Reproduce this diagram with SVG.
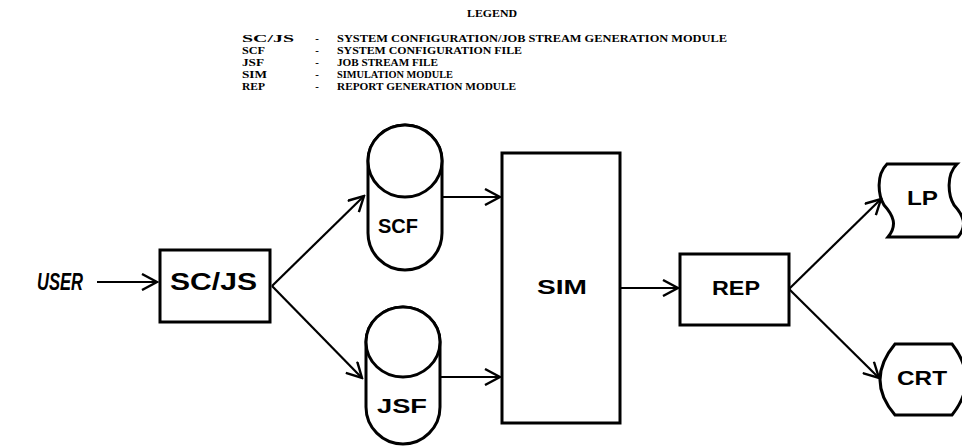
<svg xmlns="http://www.w3.org/2000/svg" width="962" height="447" viewBox="0 0 962 447">
<style>
.lg{font-family:"Liberation Serif","Times New Roman",serif;font-weight:bold;font-size:10.8px;fill:#000}
.lb{font-family:"Liberation Sans",Arial,sans-serif;font-weight:bold;font-size:21px;fill:#000}
.big{font-size:23px}
.sh{fill:#fff;stroke:#000;stroke-width:3}
.cn line{stroke:#000;stroke-width:2.2;fill:none}
</style>
<defs>
<marker id="arr" viewBox="0 0 18 18" refX="16" refY="9" markerWidth="18" markerHeight="18" markerUnits="userSpaceOnUse" orient="auto">
<path d="M1,1 L16,9 L1,17" fill="none" stroke="#000" stroke-width="2.4"/>
</marker>
</defs>
<rect width="962" height="447" fill="#fff"/>
<g id="legend">
<text class="lg" x="467" y="17" textLength="50" lengthAdjust="spacingAndGlyphs">LEGEND</text>
<text class="lg" x="242" y="41.5" textLength="52" lengthAdjust="spacingAndGlyphs">SC/JS</text>
<text class="lg" x="317" y="41.5" text-anchor="middle">-</text>
<text class="lg" x="337" y="41.5" textLength="390" lengthAdjust="spacingAndGlyphs">SYSTEM CONFIGURATION/JOB STREAM GENERATION MODULE</text>
<text class="lg" x="242" y="53.5" textLength="23" lengthAdjust="spacingAndGlyphs">SCF</text>
<text class="lg" x="317" y="53.5" text-anchor="middle">-</text>
<text class="lg" x="337" y="53.5" textLength="185" lengthAdjust="spacingAndGlyphs">SYSTEM CONFIGURATION FILE</text>
<text class="lg" x="242" y="65.5" textLength="22" lengthAdjust="spacingAndGlyphs">JSF</text>
<text class="lg" x="317" y="65.5" text-anchor="middle">-</text>
<text class="lg" x="337" y="65.5" textLength="101" lengthAdjust="spacingAndGlyphs">JOB STREAM FILE</text>
<text class="lg" x="242" y="77.5" textLength="25" lengthAdjust="spacingAndGlyphs">SIM</text>
<text class="lg" x="317" y="77.5" text-anchor="middle">-</text>
<text class="lg" x="337" y="77.5" textLength="116" lengthAdjust="spacingAndGlyphs">SIMULATION MODULE</text>
<text class="lg" x="242" y="89.5" textLength="23" lengthAdjust="spacingAndGlyphs">REP</text>
<text class="lg" x="317" y="89.5" text-anchor="middle">-</text>
<text class="lg" x="337" y="89.5" textLength="179" lengthAdjust="spacingAndGlyphs">REPORT GENERATION MODULE</text>
</g>
<g id="user">
<text class="lb big" x="37" y="290" font-style="italic" textLength="46" lengthAdjust="spacingAndGlyphs">USER</text>
</g>
<g id="scjs">
<rect class="sh" x="160" y="250" width="110" height="72"/>
<text class="lb big" x="170" y="290" textLength="87" lengthAdjust="spacingAndGlyphs">SC/JS</text>
</g>
<g id="scf">
<path class="sh" d="M368,161 L368,233 A37,37 0 0 0 442,233 L442,161 A37,36 0 0 0 368,161 Z"/>
<ellipse class="sh" cx="405" cy="161" rx="37" ry="36"/>
<text class="lb" x="378" y="233" textLength="40" lengthAdjust="spacingAndGlyphs">SCF</text>
</g>
<g id="jsf">
<path class="sh" d="M366,342 L366,407 A37,37 0 0 0 440,407 L440,342 A37,35 0 0 0 366,342 Z"/>
<ellipse class="sh" cx="403" cy="342" rx="37" ry="35"/>
<text class="lb" x="377" y="413" textLength="50" lengthAdjust="spacingAndGlyphs">JSF</text>
</g>
<g id="sim">
<rect class="sh" x="502" y="153" width="118" height="270"/>
<text class="lb" x="537" y="294" textLength="50" lengthAdjust="spacingAndGlyphs">SIM</text>
</g>
<g id="rep">
<rect class="sh" x="680" y="254" width="109" height="71"/>
<text class="lb" x="712" y="295" textLength="48" lengthAdjust="spacingAndGlyphs">REP</text>
</g>
<g id="lp">
<path class="sh" d="M887,164 L957,164 C946,175 948,195 954,205 C963,215 968,225 958,237 L888,237 C898,225 893,215 884,205 C878,195 876,175 887,164 Z"/>
<text class="lb" x="907" y="205" textLength="31" lengthAdjust="spacingAndGlyphs">LP</text>
</g>
<g id="crt">
<path class="sh" d="M895,344 L952,344 Q980,380 952,415 L895,415 Q865,380 895,344 Z"/>
<text class="lb" x="897" y="385" textLength="50" lengthAdjust="spacingAndGlyphs">CRT</text>
</g>
<g id="connectors" class="cn">
<line x1="97" y1="282" x2="157" y2="282" marker-end="url(#arr)"/>
<line x1="272" y1="286" x2="364" y2="196" marker-end="url(#arr)"/>
<line x1="272" y1="286" x2="362" y2="378" marker-end="url(#arr)"/>
<line x1="442" y1="197" x2="500" y2="197" marker-end="url(#arr)"/>
<line x1="440" y1="377" x2="500" y2="377" marker-end="url(#arr)"/>
<line x1="620" y1="288" x2="678" y2="288" marker-end="url(#arr)"/>
<line x1="789" y1="289" x2="881" y2="199" marker-end="url(#arr)"/>
<line x1="789" y1="289" x2="879" y2="378" marker-end="url(#arr)"/>
</g>
</svg>
